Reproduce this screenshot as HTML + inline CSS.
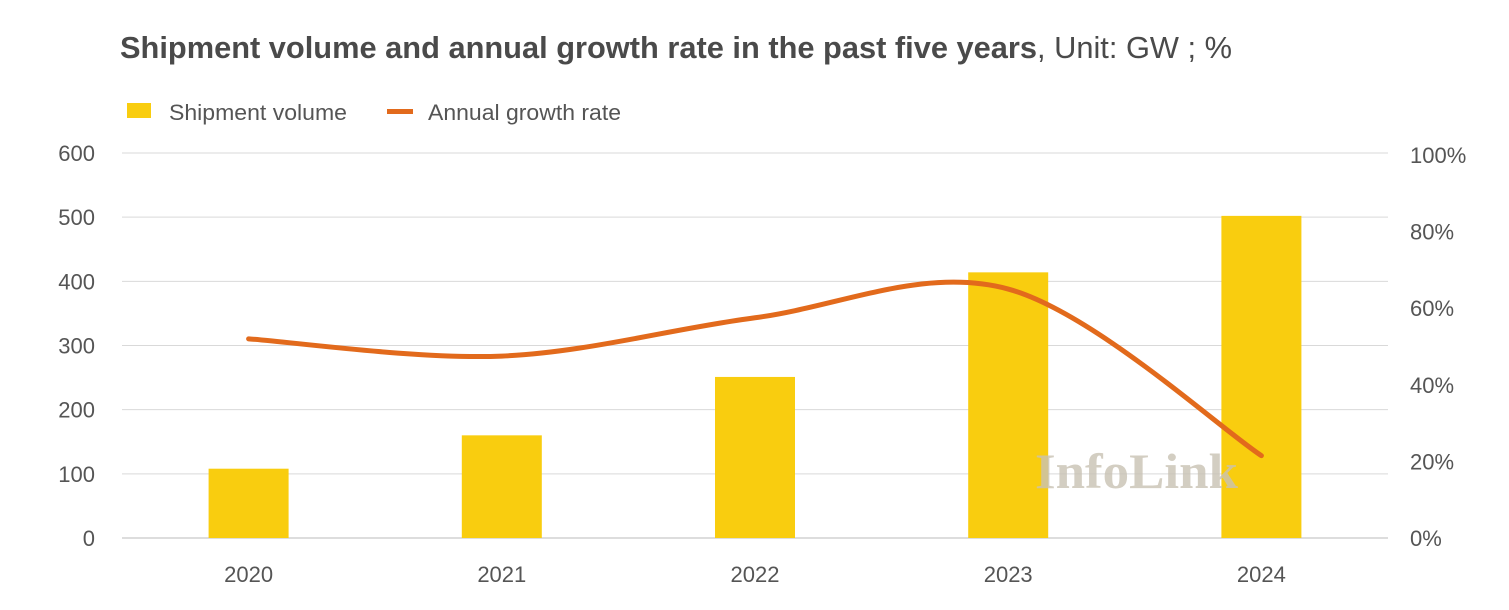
<!DOCTYPE html>
<html><head><meta charset="utf-8">
<style>
html,body{margin:0;padding:0;background:#fff;width:1509px;height:610px;overflow:hidden}
text{font-family:"Liberation Sans",sans-serif}
</style></head>
<body>
<svg id="chart" width="1509" height="610" xmlns="http://www.w3.org/2000/svg">
<text x="120" y="58" font-size="31" fill="#4a4a4a" textLength="1112" lengthAdjust="spacingAndGlyphs"><tspan font-weight="bold">Shipment volume and annual growth rate in the past five years</tspan>, Unit: GW ; %</text>
<g>
<rect x="127" y="103" width="24" height="15" fill="#f9cd0f"/>
<text x="169" y="120" font-size="22" fill="#555" textLength="178" lengthAdjust="spacingAndGlyphs">Shipment volume</text>
<rect x="387" y="109" width="26" height="5" fill="#e26a1c"/>
<text x="428" y="120" font-size="22" fill="#555" textLength="193" lengthAdjust="spacingAndGlyphs">Annual growth rate</text>
</g>
<g id="grid"></g><g id="bars"></g><g id="axes"></g>
<text x="1035" y="488" font-size="50" font-family="Liberation Serif" font-weight="bold" fill="#c9c2b4" opacity="0.8" textLength="203" lengthAdjust="spacingAndGlyphs" style="font-family:'Liberation Serif',serif">InfoLink</text>
<g id="line"></g>
</svg>
<script>
const categories=["2020","2021","2022","2023","2024"];
const shipment=[108,160,251,414,502];
const growth=[52,47.5,57.5,65,21.5];
const leftTicks=[0,100,200,300,400,500,600];
const rightTicks=[0,20,40,60,80,100];
const NS="http://www.w3.org/2000/svg";
const x0=122,x1=1388,y0=538,yTop=153,yTopR=155;
const band=(x1-x0)/categories.length;
const xc=i=>x0+band*(i+0.5);
const yL=v=>y0-(v/600)*(y0-yTop);
const yR=v=>y0-(v/100)*(y0-yTopR);
function mk(tag,attrs,parent){const e=document.createElementNS(NS,tag);for(const k in attrs)e.setAttribute(k,attrs[k]);parent.appendChild(e);return e;}
const grid=document.getElementById('grid'),bars=document.getElementById('bars'),axes=document.getElementById('axes'),line=document.getElementById('line');
leftTicks.forEach(t=>{
 const l=mk('line',{x1:x0,x2:x1,y1:yL(t),y2:yL(t),stroke:t===0?'#bbb':'#d9d9d9','stroke-width':1},grid);
 
 
 const tx=mk('text',{x:95,y:yL(t)+8,'text-anchor':'end','font-size':22,fill:'#555'},axes);
 tx.textContent=t;
 
 
});
rightTicks.forEach(t=>{
 const tx=mk('text',{x:1410,y:yR(t)+8,'font-size':22,fill:'#555'},axes);
 tx.textContent=t+'%';
 
 
});
categories.forEach((c,i)=>{
 const r=mk('rect',{x:xc(i)-40,y:yL(shipment[i]),width:80,height:y0-yL(shipment[i]),fill:'#f9cd0f'},bars);
 
 
 const tx=mk('text',{x:xc(i),y:582,'text-anchor':'middle','font-size':22,fill:'#555'},axes);
 tx.textContent=c;
 
 
});
const pts=growth.map((g,i)=>[xc(i),yR(g)]);
let d='M'+pts[0][0]+','+pts[0][1];
for(let i=0;i<pts.length-1;i++){
 const p0=pts[i-1]||pts[i],p1=pts[i],p2=pts[i+1],p3=pts[i+2]||p2;
 const c1=[p1[0]+(p2[0]-p0[0])/6,p1[1]+(p2[1]-p0[1])/6];
 const c2=[p2[0]-(p3[0]-p1[0])/6,p2[1]-(p3[1]-p1[1])/6];
 d+=' C'+c1+' '+c2+' '+p2;
}
const path=mk('path',{d:d,fill:'none',stroke:'#e26a1c','stroke-width':5,'stroke-linecap':'round'},line);


</script>
</body></html>
